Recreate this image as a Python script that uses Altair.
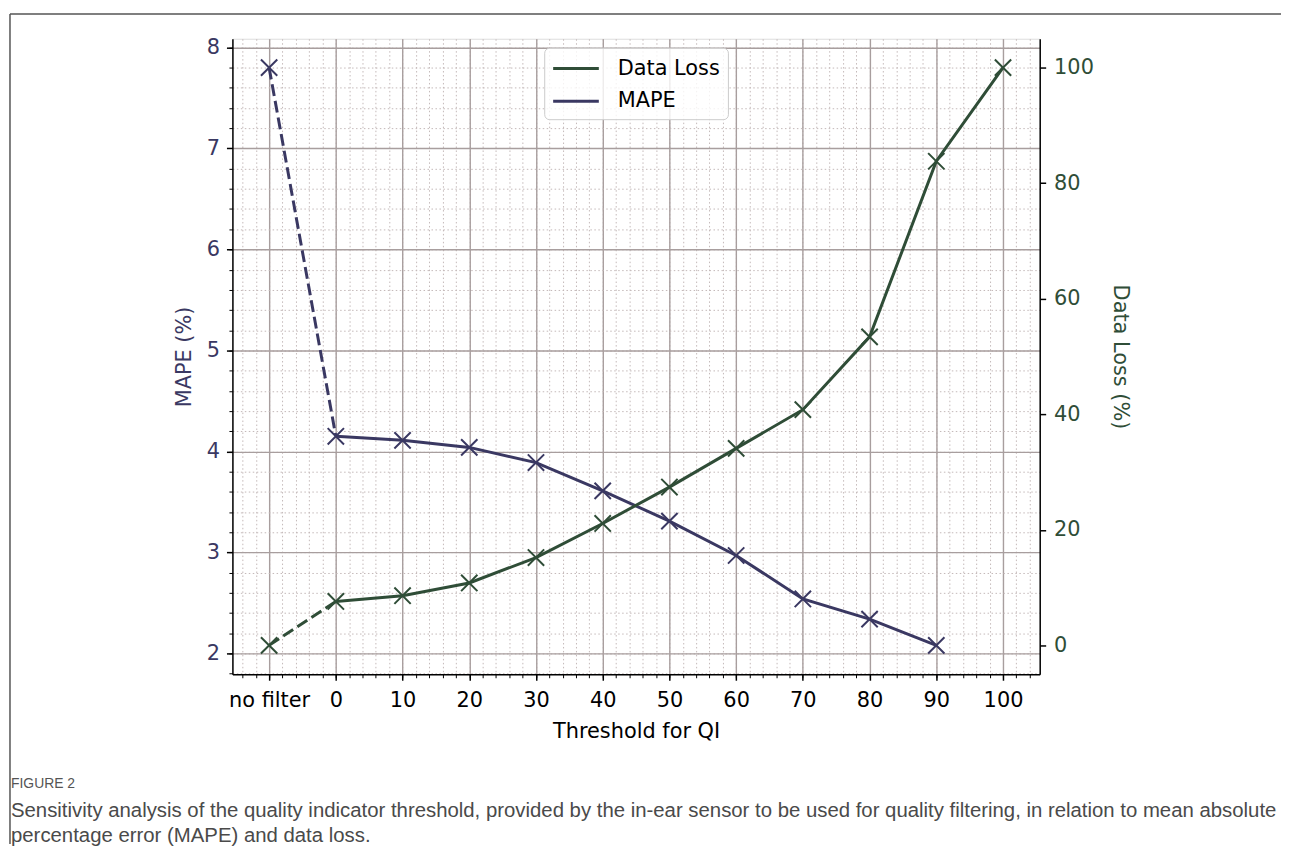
import altair as alt
import pandas as pd

categories = ["no filter", "0", "10", "20", "30", "40", "50", "60", "70", "80", "90", "100"]
mape = [7.80, 4.15, 4.11, 4.04, 3.89, 3.61, 3.31, 2.97, 2.54, 2.34, 2.08, None]
data_loss = [0.0, 7.6, 8.6, 10.8, 15.2, 21.1, 27.4, 34.1, 40.8, 53.4, 83.8, 100.0]
mape_ticks = [2, 3, 4, 5, 6, 7, 8]
loss_ticks = [0, 20, 40, 60, 80, 100]
series_names = ["Data Loss", "MAPE"]
caption_head = "FIGURE 2"
caption_lines = [
    "Sensitivity analysis of the quality indicator threshold, provided by the in-ear sensor to be used for quality filtering, in relation to mean absolute",
    "percentage error (MAPE) and data loss.",
]

NAVY = "#3a3862"
GREEN = "#2f4d37"
MAJOR_GRID = "#a89e9e"
MINOR_GRID = "#c4b8b8"
FONT = "DejaVu Sans"
CAP_FONT = "Liberation Sans"
FS = 21

W, H = 813, 640

df = pd.DataFrame({
    "idx": list(range(len(categories))),
    "cat": categories,
    "mape": mape,
    "loss": data_loss,
})

x_major = list(range(len(categories)))
x_minor = [round(-0.4 + 0.2 * k, 1) for k in range(60)]
y_minor = [round(1.8 + 0.2 * k, 1) for k in range(32)]
label_expr = "[" + ",".join("'" + c + "'" for c in categories) + "][datum.value]"

xs = alt.Scale(domain=[-0.55, 11.55], nice=False, zero=False)
ys_mape = alt.Scale(domain=[1.794, 8.086], nice=False, zero=False)
ys_loss = alt.Scale(domain=[-5, 105], nice=False, zero=False)
color_scale = alt.Scale(domain=series_names, range=[GREEN, NAVY])

X_SHAPE = "M-1,-1L1,1M-1,1L1,-1"
LEGEND_LINE = "M-2,0L2,0"

base = alt.Chart(df)

# minor grid / ticks carried by the dashed MAPE segment
mape_dash = base.transform_filter("datum.idx <= 1").mark_line(
    color=NAVY, strokeWidth=3, strokeDash=[12, 5]
).encode(
    x=alt.X("idx:Q", scale=xs, axis=alt.Axis(
        values=x_minor, labels=False, title=None, orient="bottom",
        tickSize=3.5, tickWidth=1, tickColor="black", domain=False,
        grid=True, gridColor=MINOR_GRID, gridDash=[1.5, 2.5], gridWidth=1)),
    y=alt.Y("mape:Q", scale=ys_mape, axis=alt.Axis(
        values=y_minor, labels=False, title=None, orient="left",
        tickSize=3.5, tickWidth=1, tickColor="black", domain=False,
        grid=True, gridColor=MINOR_GRID, gridDash=[1.5, 2.5], gridWidth=1)),
)

mape_solid = base.transform_filter("datum.idx >= 1 && isValid(datum.mape)").transform_calculate(
    series="'MAPE'"
).mark_line(strokeWidth=3).encode(
    x=alt.X("idx:Q", scale=xs, axis=alt.Axis(
        values=x_major, labelExpr=label_expr, title="Threshold for QI", orient="bottom",
        tickSize=6, tickWidth=1.5, tickColor="black",
        domain=True, domainColor="black", domainWidth=1.5,
        grid=True, gridColor=MAJOR_GRID, gridWidth=1.4,
        labelFont=FONT, labelFontSize=FS, labelColor="black", labelPadding=9,
        titleFont=FONT, titleFontSize=FS, titleFontWeight="normal", titleColor="black",
        titlePadding=11)),
    y=alt.Y("mape:Q", scale=ys_mape, axis=alt.Axis(
        values=mape_ticks, format="d", title="MAPE (%)", orient="left",
        tickSize=6, tickWidth=1.5, tickColor="black",
        domain=True, domainColor="black", domainWidth=1.5,
        grid=True, gridColor=MAJOR_GRID, gridWidth=1.4,
        labelFont=FONT, labelFontSize=FS, labelColor=NAVY, labelPadding=7,
        titleFont=FONT, titleFontSize=FS, titleFontWeight="normal", titleColor=NAVY,
        titlePadding=12)),
    color=alt.Color("series:N", scale=color_scale, legend=alt.Legend(
        orient="none", legendX=314, legendY=9, title=None,
        symbolType=LEGEND_LINE, symbolStrokeWidth=3, symbolSize=529,
        symbolOffset=11, labelOffset=29,
        labelFont=FONT, labelFontSize=FS, labelColor="black",
        padding=8, rowPadding=10, strokeColor="#cccccc", cornerRadius=5,
        fillColor="rgba(255,255,255,0.8)")),
)

mape_pts = base.transform_filter("isValid(datum.mape)").mark_point(
    shape=X_SHAPE, filled=False, color=NAVY, strokeWidth=2, size=270, opacity=1
).encode(
    x=alt.X("idx:Q", scale=xs, axis=None),
    y=alt.Y("mape:Q", scale=ys_mape, axis=None),
)

loss_dash = base.transform_filter("datum.idx <= 1").mark_line(
    color=GREEN, strokeWidth=3, strokeDash=[12, 5]
).encode(
    x=alt.X("idx:Q", scale=xs, axis=None),
    y=alt.Y("loss:Q", scale=ys_loss, axis=None),
)

loss_solid = base.transform_filter("datum.idx >= 1").transform_calculate(
    series="'Data Loss'"
).mark_line(strokeWidth=3).encode(
    x=alt.X("idx:Q", scale=xs, axis=None),
    y=alt.Y("loss:Q", scale=ys_loss, axis=alt.Axis(
        values=loss_ticks, title="Data Loss (%)", orient="right",
        tickSize=6, tickWidth=1.5, tickColor="black",
        domain=True, domainColor="black", domainWidth=1.5, grid=False,
        labelFont=FONT, labelFontSize=FS, labelColor=GREEN, labelPadding=8,
        titleFont=FONT, titleFontSize=FS, titleFontWeight="normal", titleColor=GREEN,
        titlePadding=16)),
    color=alt.Color("series:N", scale=color_scale, legend=None),
)

loss_pts = base.mark_point(
    shape=X_SHAPE, filled=False, color=GREEN, strokeWidth=2, size=270, opacity=1
).encode(
    x=alt.X("idx:Q", scale=xs, axis=None),
    y=alt.Y("loss:Q", scale=ys_loss, axis=None),
)

one = pd.DataFrame({"k": [0]})
frame_left = alt.Chart(one).mark_rule(color="#555555", strokeWidth=1.5).encode(
    x=alt.value(-224), y=alt.value(-25), y2=alt.value(811))
frame_top = alt.Chart(one).mark_rule(color="#555555", strokeWidth=1.5).encode(
    x=alt.value(-224), x2=alt.value(1056), y=alt.value(-25))

cap_head = alt.Chart(pd.DataFrame({"t": [caption_head]})).mark_text(
    align="left", baseline="middle", font=CAP_FONT, fontSize=14, color="#555555"
).encode(text="t:N", x=alt.value(-223), y=alt.value(751))
cap1 = alt.Chart(pd.DataFrame({"t": [caption_lines[0]]})).mark_text(
    align="left", baseline="middle", font=CAP_FONT, fontSize=20.5, color="#4a4a4a"
).encode(text="t:N", x=alt.value(-223), y=alt.value(778))
cap2 = alt.Chart(pd.DataFrame({"t": [caption_lines[1]]})).mark_text(
    align="left", baseline="middle", font=CAP_FONT, fontSize=20.5, color="#4a4a4a"
).encode(text="t:N", x=alt.value(-223), y=alt.value(803))

chart = alt.layer(
    mape_dash, mape_solid, loss_dash, loss_solid, mape_pts, loss_pts,
    frame_left, frame_top, cap_head, cap1, cap2,
).resolve_scale(
    y="independent"
).resolve_axis(
    x="independent", y="independent"
).properties(
    width=W, height=H, padding={"left": 1, "top": 2, "right": 0, "bottom": 0}
).configure_view(
    stroke="black", strokeWidth=1.5
).configure(background="white")

chart.save("out.html", embed_options={"renderer": "svg", "actions": False})
